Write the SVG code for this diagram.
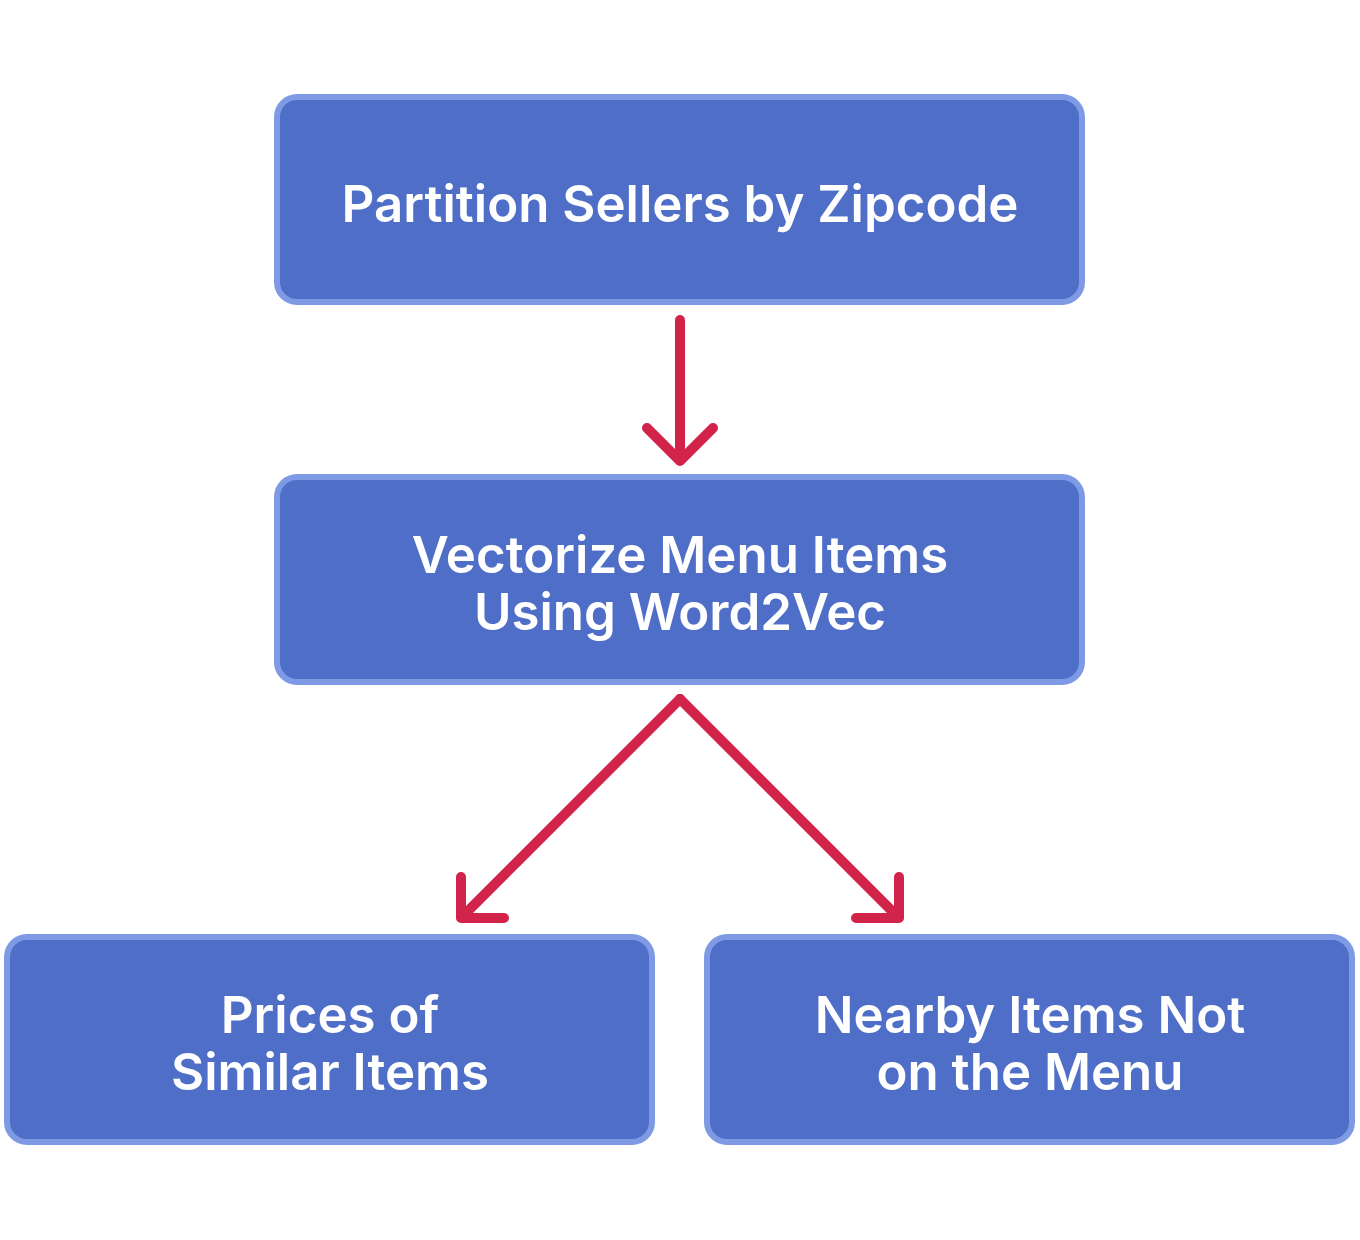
<svg xmlns="http://www.w3.org/2000/svg" width="1360" height="1240" viewBox="0 0 1360 1240">
<style>
.box{fill:#4f6ec7;stroke:#7f9ae5;stroke-width:6}
.lbl{fill:#ffffff;font-family:Inter,"Open Sans","Liberation Sans",sans-serif;font-weight:600;font-size:51px;text-anchor:middle}
.con{fill:none;stroke:#d2234b;stroke-width:10;stroke-linecap:round;stroke-linejoin:round}
</style>
<rect width="1360" height="1240" fill="#ffffff"/>
<g id="connectors">
<path class="con" d="M680,320 L680,460 M647,428 L680,461 L713,428"/>
<path class="con" d="M680,699 L461,918 M461,877 L461,918 L504,918"/>
<path class="con" d="M680,699 L899,918 M899,877 L899,918 L856,918"/>
</g>
<g id="n1">
<rect class="box" x="277" y="97" width="805" height="205" rx="20"/>
<text class="lbl" x="680" y="222">Partition Sellers by Zipcode</text>
</g>
<g id="n2">
<rect class="box" x="277" y="477" width="805" height="205" rx="20"/>
<text class="lbl" x="680" y="573">Vectorize Menu Items</text>
<text class="lbl" x="680" y="630">Using Word2Vec</text>
</g>
<g id="n3">
<rect class="box" x="7" y="937" width="645" height="205" rx="20"/>
<text class="lbl" x="330" y="1033">Prices of</text>
<text class="lbl" x="330" y="1090">Similar Items</text>
</g>
<g id="n4">
<rect class="box" x="707" y="937" width="645" height="205" rx="20"/>
<text class="lbl" x="1030" y="1033">Nearby Items Not</text>
<text class="lbl" x="1030" y="1090">on the Menu</text>
</g>
</svg>
